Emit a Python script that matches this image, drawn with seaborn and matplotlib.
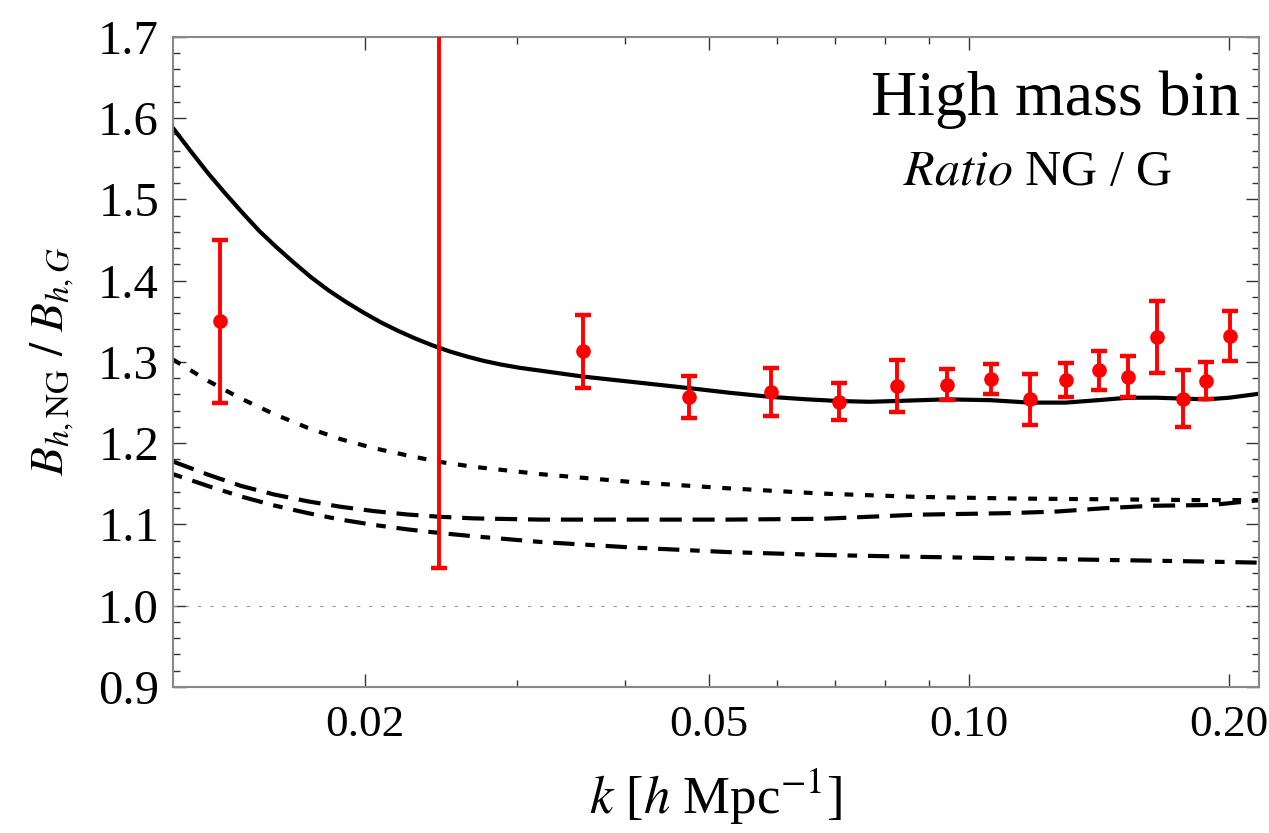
import numpy as np
import pandas as pd
import matplotlib
matplotlib.use('Agg')
import matplotlib.pyplot as plt
import matplotlib.ticker as mticker
import seaborn as sns

# Model curves (k in h/Mpc)
k_solid = [0.01200, 0.01257, 0.01316, 0.01378, 0.01443, 0.01511, 0.01582, 0.01657, 0.01735,
           0.01817, 0.01902, 0.01992, 0.02086, 0.02184, 0.02287, 0.02395, 0.02508, 0.02626,
           0.0275, 0.0288, 0.0302, 0.0316, 0.0358, 0.0420, 0.0473, 0.0530, 0.0590, 0.0650,
           0.0706, 0.0767, 0.0825, 0.0943, 0.1059, 0.1177, 0.1295, 0.1411, 0.1527, 0.1650,
           0.1764, 0.1882, 0.2000, 0.2170]
ratio_solid = [1.588, 1.560, 1.533, 1.508, 1.484, 1.461, 1.441, 1.422, 1.404,
               1.388, 1.374, 1.361, 1.349, 1.3385, 1.329, 1.3205, 1.313, 1.3067,
               1.3012, 1.2967, 1.2929, 1.290, 1.282, 1.274, 1.268, 1.262, 1.257, 1.254,
               1.252, 1.251, 1.252, 1.254, 1.253, 1.250, 1.250, 1.253, 1.256, 1.256,
               1.255, 1.254, 1.256, 1.261]

k_dotted = [0.0120, 0.01316, 0.01438, 0.0157, 0.01718, 0.01876, 0.02048, 0.0224, 0.02442,
            0.02673, 0.03192, 0.0410, 0.0527, 0.0677, 0.0869, 0.1117, 0.1434, 0.1843, 0.2170]
ratio_dotted = [1.303, 1.277, 1.255, 1.236, 1.219, 1.205, 1.194, 1.185, 1.177,
                1.171, 1.162, 1.152, 1.1445, 1.138, 1.134, 1.132, 1.131, 1.130, 1.130]

k_dashed = [0.0120, 0.01316, 0.01438, 0.0157, 0.01718, 0.01876, 0.02048, 0.0224, 0.02442,
            0.02673, 0.03192, 0.0410, 0.0527, 0.0677, 0.0869, 0.1117, 0.1267, 0.1434,
            0.1628, 0.1911, 0.2170]
ratio_dashed = [1.1775, 1.1615, 1.1475, 1.137, 1.1285, 1.1218, 1.1165, 1.1123, 1.1095,
                1.1075, 1.106, 1.106, 1.106, 1.107, 1.112, 1.114, 1.116, 1.120,
                1.123, 1.124, 1.130]

k_dashdot = [0.0120, 0.01316, 0.01438, 0.0157, 0.01718, 0.01876, 0.02048, 0.0224, 0.02442,
             0.02673, 0.03192, 0.0410, 0.0527, 0.0677, 0.0869, 0.1117, 0.1434, 0.1843, 0.2170]
ratio_dashdot = [1.162, 1.1475, 1.1345, 1.1235, 1.114, 1.106, 1.0995, 1.094, 1.0895,
                 1.0855, 1.0785, 1.0715, 1.066, 1.0625, 1.0602, 1.0583, 1.0564, 1.0545, 1.053]

# Simulation measurements
k_data = [0.0136, 0.0244, 0.0358, 0.0474, 0.0590, 0.0708, 0.0825, 0.0944, 0.1061,
          0.1178, 0.1296, 0.1413, 0.1530, 0.1650, 0.1767, 0.1883, 0.2003]
ratio_data = [1.350, 1.800, 1.313, 1.257, 1.263, 1.251, 1.270, 1.272, 1.279,
              1.254, 1.278, 1.290, 1.282, 1.331, 1.255, 1.277, 1.332]
err_data = [0.100, 0.753, 0.045, 0.026, 0.030, 0.023, 0.032, 0.019, 0.019,
            0.031, 0.021, 0.024, 0.025, 0.044, 0.035, 0.023, 0.031]

x_ticks = [0.02, 0.05, 0.10, 0.20]
x_ticklabels = ['0.02', '0.05', '0.10', '0.20']
x_minor = [0.03, 0.04, 0.06, 0.07, 0.08, 0.09]
y_ticks = [0.9, 1.0, 1.1, 1.2, 1.3, 1.4, 1.5, 1.6, 1.7]

sns.set_style('ticks')
plt.rcParams['font.family'] = ['Liberation Serif', 'DejaVu Serif']
plt.rcParams['mathtext.fontset'] = 'stix'
plt.rcParams['text.color'] = 'black'
plt.rcParams['axes.labelcolor'] = 'black'
plt.rcParams['xtick.labelcolor'] = 'black'
plt.rcParams['ytick.labelcolor'] = 'black'

fig = plt.figure(figsize=(12.69, 8.33), dpi=100)
ax = fig.add_axes([0.1363, 0.1753, 0.8558, 0.7803])
ax.set_xscale('log')

ax.axhline(1.0, color='#9a9a9a', lw=0.8, linestyle=(0, (3, 8)), zorder=1)

curves = [
    (k_solid, ratio_solid, '-'),
    (k_dotted, ratio_dotted, (0, (2.1, 2.8))),
    (k_dashed, ratio_dashed, (0, (5.3, 2.6))),
    (k_dashdot, ratio_dashdot, (0, (2.3, 2.6, 5.1, 2.6))),
]
for kk, rr, ls in curves:
    df = pd.DataFrame({'k': kk, 'ratio': rr})
    sns.lineplot(data=df, x='k', y='ratio', ax=ax, color='black', lw=3.0,
                 linestyle=ls, errorbar=None, sort=True, zorder=2)

ax.errorbar(k_data, ratio_data, yerr=err_data, fmt='o', color='#ff0000',
            ms=9.5, elinewidth=2.8, capsize=6, capthick=3.2, zorder=3)

ax.set_xlim(0.0120, 0.2166)
ax.set_ylim(0.9, 1.7)

ax.xaxis.set_major_locator(mticker.FixedLocator(x_ticks))
ax.xaxis.set_major_formatter(mticker.FixedFormatter(x_ticklabels))
ax.xaxis.set_minor_locator(mticker.FixedLocator(x_minor))
ax.xaxis.set_minor_formatter(mticker.NullFormatter())
ax.yaxis.set_major_locator(mticker.FixedLocator(y_ticks))
ax.yaxis.set_major_formatter(mticker.FormatStrFormatter('%.1f'))
ax.yaxis.set_minor_locator(mticker.MultipleLocator(0.02))

ax.tick_params(which='both', direction='in', top=True, right=True, color='#333333',
               width=1.0, pad=10)
ax.tick_params(axis='y', labelsize=35)
ax.tick_params(axis='x', labelsize=32.5, pad=13)
ax.tick_params(which='major', length=9.5)
ax.tick_params(which='minor', length=5)

for sp in ax.spines.values():
    sp.set_color('#888888')
    sp.set_linewidth(1.5)

ax.set_xlabel(r'$k$ [$h$ Mpc$^{-1}$]', fontsize=38, labelpad=16)
ax.set_ylabel(r'$B_{h,\mathrm{NG}}\ /\ B_{h,G}$', fontsize=34, labelpad=16)

ax.text(0.9825, 0.880, 'High mass bin', transform=ax.transAxes, ha='right',
        va='baseline', fontsize=46)
ax.text(0.920, 0.772, r'$\mathit{Ratio}$ NG / G', transform=ax.transAxes, ha='right',
        va='baseline', fontsize=36)

fig.savefig('out.png', dpi=100)
